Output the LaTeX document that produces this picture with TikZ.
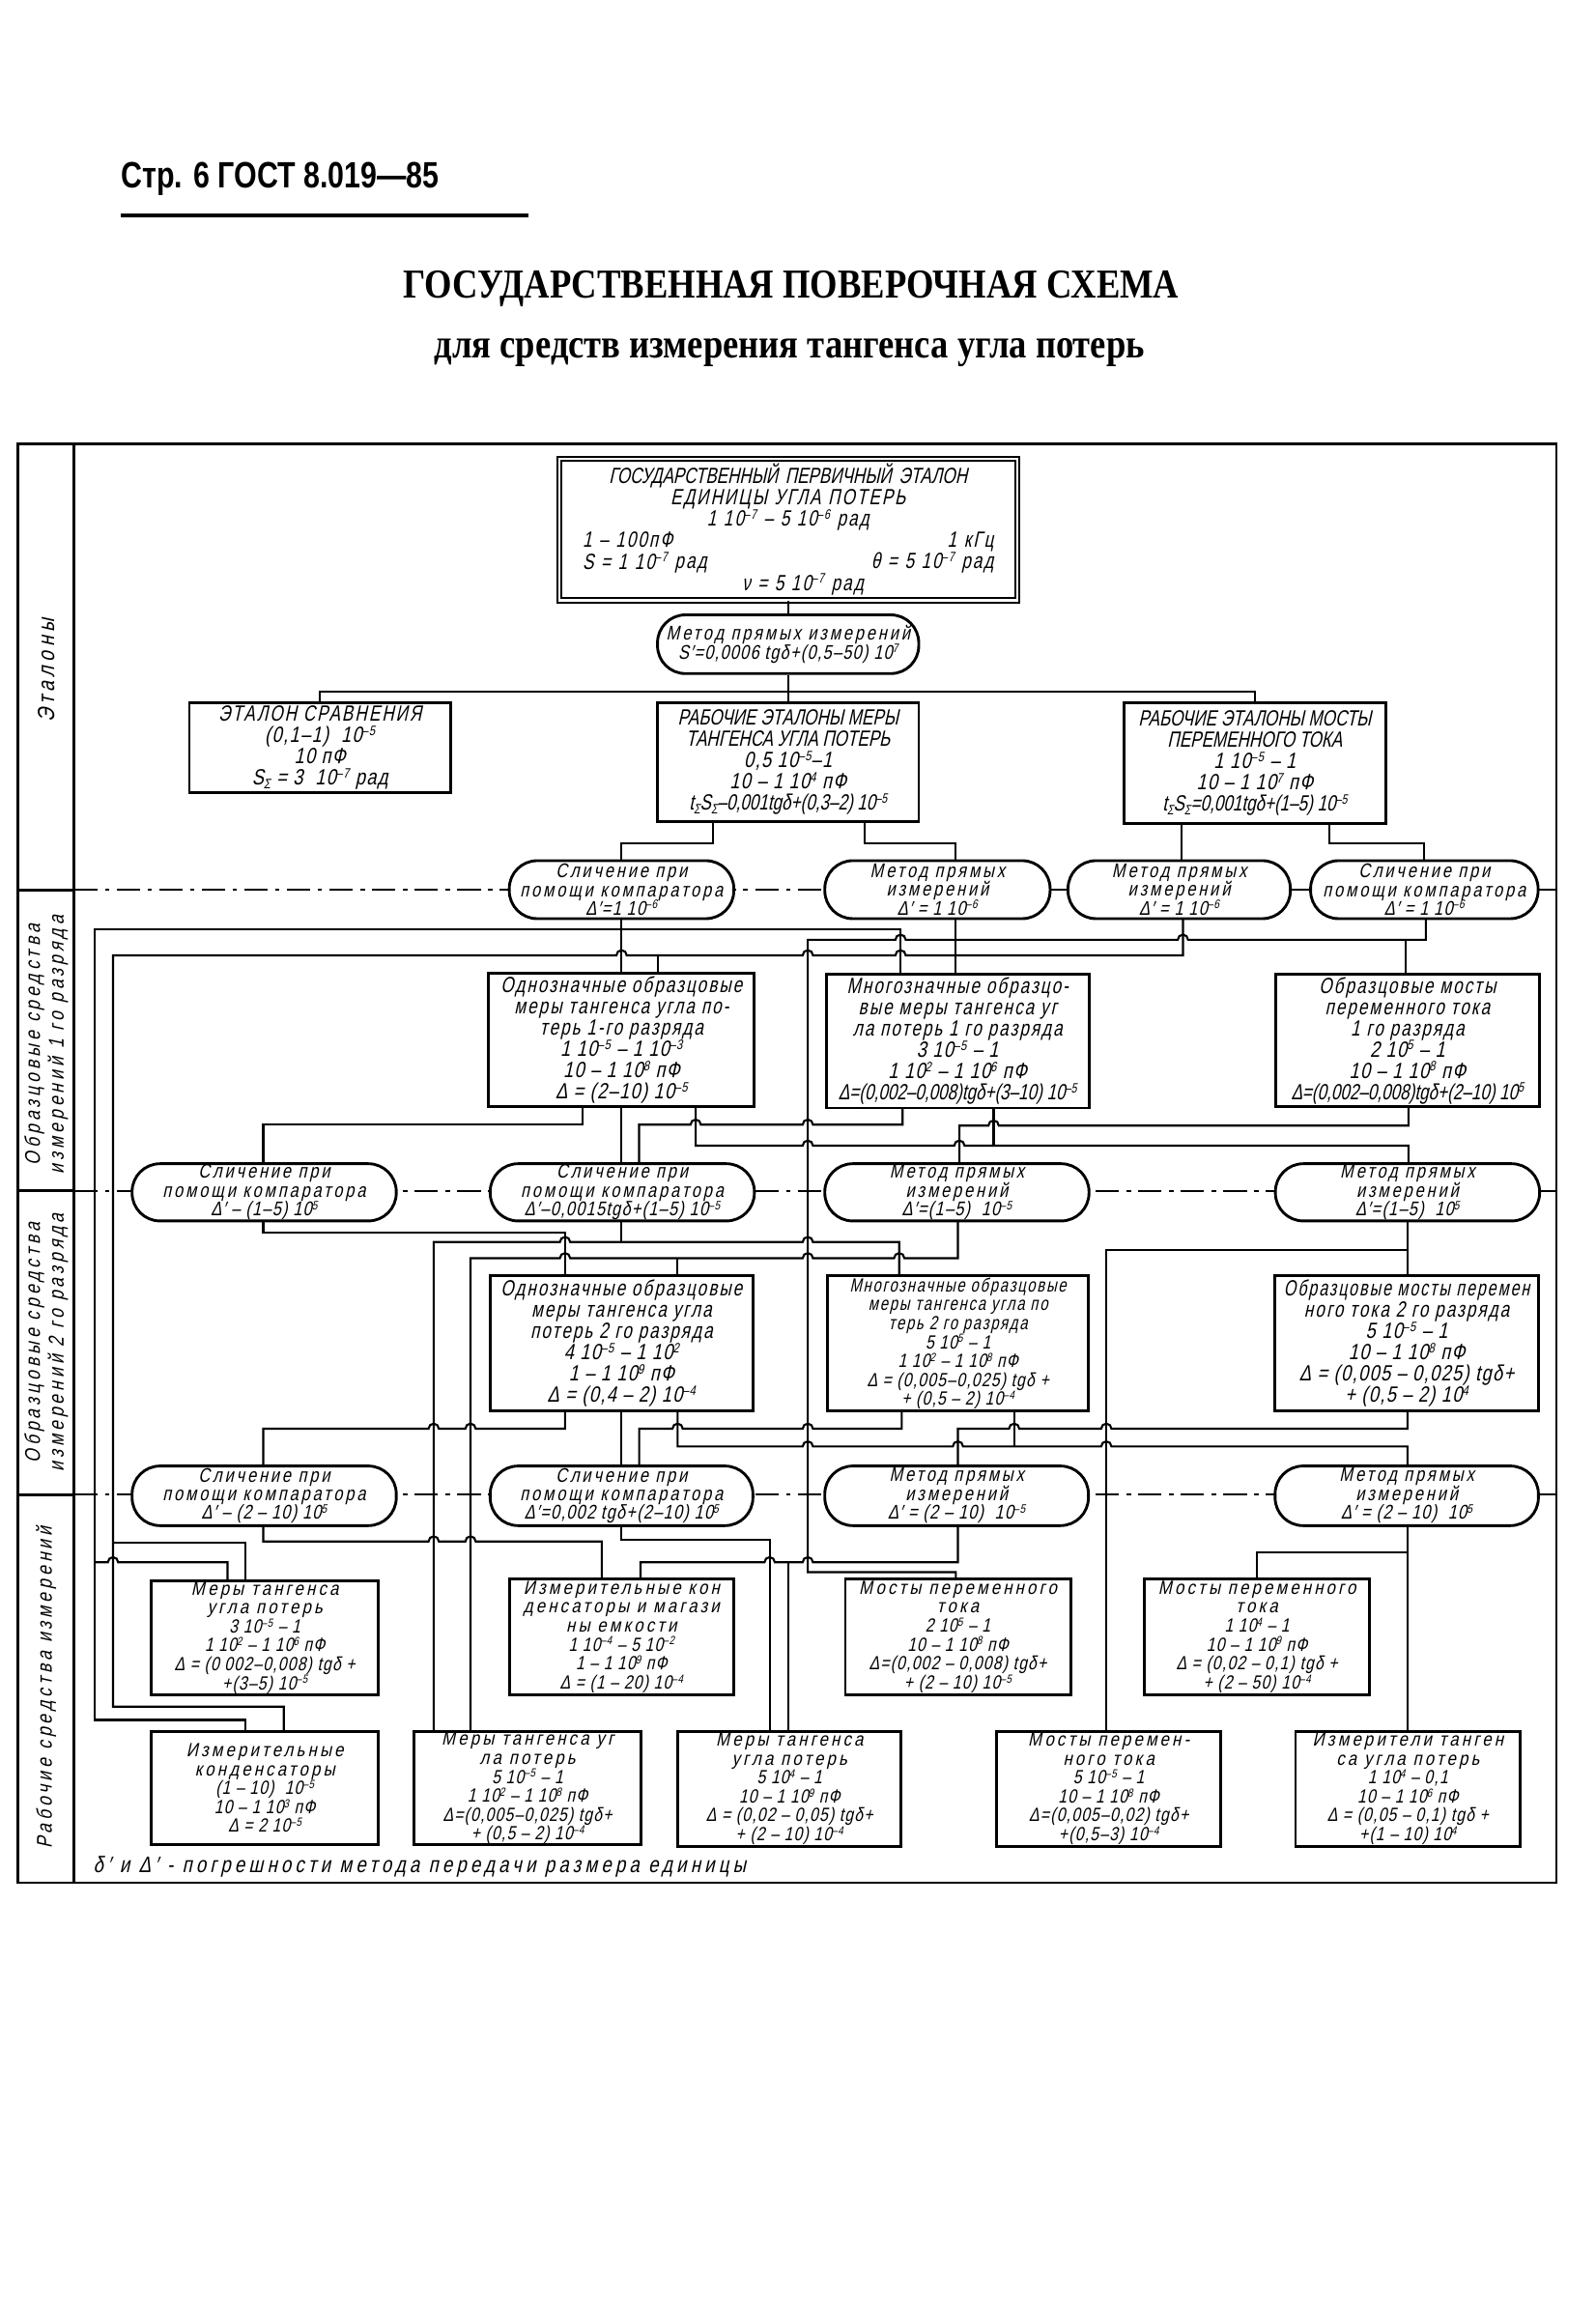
\documentclass[tikz,border=0pt]{standalone}
\usepackage{fontspec}
\usepackage{graphicx}
\setmainfont{Liberation Sans}
\newfontfamily\gost[FakeSlant=0.22,FakeStretch=0.75,LetterSpace=9]{Liberation Sans}
\newfontfamily\gostn[FakeSlant=0.22,FakeStretch=0.75]{Liberation Sans}
\newfontfamily\gosto[FakeSlant=0.22,FakeStretch=0.8,LetterSpace=14]{Liberation Sans}
\newfontfamily\gostb[FakeSlant=0.22,FakeStretch=0.85,LetterSpace=16]{Liberation Sans}
\newfontfamily\gostf[FakeSlant=0.22,FakeStretch=0.8,LetterSpace=6]{Liberation Sans}
\newfontfamily\gostw[FakeSlant=0.22,FakeStretch=0.8,LetterSpace=18]{Liberation Sans}
\newfontfamily\headfont[FakeStretch=0.8]{Liberation Sans}
\newfontfamily\titlefont[FakeStretch=0.86]{Liberation Serif}

\newcommand\sps[1]{\raisebox{0.32em}{\scalebox{0.62}{#1}}}
\newcommand\sbs[1]{\raisebox{-0.18em}{\scalebox{0.62}{#1}}}
\newcommand\frm[1]{{\gostn #1}}
\newcommand\ofm[1]{{\gostf #1}}
\newcommand\squeeze[1]{\scalebox{0.94}[1]{#1}}
% hop over a vertical line: going right / going left
\newcommand\hr[2]{-- (#1-3.5,#2) arc[start angle=180,end angle=0,radius=3.5pt]}
\newcommand\hl[2]{-- (#1+3.5,#2) arc[start angle=0,end angle=180,radius=3.5pt]}
% node given by its corners
\newcommand\place[7]{\node[#1,minimum width=#5pt-#3pt,minimum height=#6pt-#4pt] (#2) at ({(#3+#5)/2},{(#4+#6)/2}) {#7};}

\tikzset{
  conn/.style={line width=1.4pt},
  outline/.style={line width=1.7pt},
  blk/.style={draw,line width=1.9pt,fill=white,align=center,inner sep=0pt,
    font=\gost\fontsize{15}{14.5}\selectfont},
  blkseven/.style={blk,font=\gost\fontsize{13}{12.9}\selectfont},
  blksm/.style={blk,font=\gostb\fontsize{13}{12.9}\selectfont},
  prim/.style={blk,double,double distance=1.6pt,line width=1.3pt,text width=280pt,
    font=\gostn\fontsize{15}{14.5}\selectfont},
  meth/.style={draw,line width=1.9pt,fill=white,rounded corners=19pt,align=center,inner sep=0pt,
    font=\gosto\fontsize{13.5}{12.8}\selectfont},
  zone/.style={rotate=90,align=center,font=\gostw\fontsize{14.5}{16}\selectfont},
  sepline/.style={line width=1.4pt,dash pattern=on 16pt off 5pt on 3pt off 5pt},
}

\begin{document}
\lineskiplimit=-20pt\relax
\begin{tikzpicture}[x=1pt,y=-1pt]
\useasboundingbox (0,0) rectangle (1087,1568);
% heading
\node[anchor=west,font=\headfont\bfseries\fontsize{25}{27}\selectfont] (page) at (79,122) {Стр. 6 ГОСТ 8.019—85};
\draw[line width=2.8pt] (82,147) -- (360,147);
\node[font=\titlefont\bfseries\fontsize{28}{30}\selectfont] (title) at (539,197) {ГОСУДАРСТВЕННАЯ ПОВЕРОЧНАЯ СХЕМА};
\node[font=\titlefont\bfseries\fontsize{28}{30}\selectfont] (subtitle) at (538,240) {для средств измерения тангенса угла потерь};

% frame, level column, separators
\draw[outline] (12.2,302.6) rectangle (1060.4,1283);
\draw[outline] (50.5,302.6) -- (50.5,1283);
\foreach \y in {606.4,811.4,1018.6}{
  \draw[outline] (12.2,\y) -- (50.5,\y);
  \draw[sepline] (50.5,\y) -- (1060.4,\y);
  \draw[conn] (1045,\y) -- (1060.4,\y);}
\draw[conn] (712,606.4) -- (731,606.4) (876,606.4) -- (896,606.4);
\node[zone,font=\gostw\fontsize{16}{16}\selectfont] (lev0) at (31.5,457) {Эталоны};
\node[zone] (lev1) at (31.5,712) {Образцовые средства\\измерений 1 го разряда};
\node[zone] (lev2) at (31.5,915) {Образцовые средства\\измерений 2 го разряда};
\node[zone] (lev3) at (31.5,1150) {Рабочие средства измерений};

% connectors: etalons
\draw[conn] (218,479) -- (218,471.5) -- (855,471.5) -- (855,479);
\draw[conn] (486,560) -- (486,574.6) -- (423.5,574.6) -- (423.5,586.5);
\draw[conn] (589,560) -- (589,574.6) -- (651,574.6) -- (651,586.5);
\draw[conn] (805,561) -- (805,586.5);
\draw[conn] (906,561) -- (906,574.6) -- (970.5,574.6) -- (970.5,586.5);

% connectors: 1st grade
\draw[conn] (167,1180) -- (167,1172) -- (64.5,1172) -- (64.5,633.5) -- (613.6,633.5) -- (613.6,664);
\draw[conn] (64.5,1064.6) \hr{77}{1064.6} -- (155,1064.6) -- (155,1077);
\draw[conn] (423.5,626) -- (423.5,663);
\draw[conn] (193.4,1180) -- (193.4,1163) -- (77,1163) -- (77,651) \hr{423.5}{651} \hr{550.4}{651} \hr{613.6}{651} -- (806,651) -- (806,626);
\draw[conn] (448,651) -- (448,663);
\draw[conn] (77,1051.5) -- (167,1051.5) -- (167,1077);
\draw[conn] (651.3,1076) -- (651.3,1071.3) -- (550.4,1071.3) -- (550.4,640.4) \hr{613.6}{640.4} \hr{806}{640.4} -- (971.5,640.4) -- (971.5,626);
\draw[conn] (958,640.4) -- (958,664);
\draw[conn] (651,626) -- (651,664);

\draw[conn] (397,754) -- (397,766.5) -- (179.4,766.5) -- (179.4,793);
\draw[conn] (423.5,754) -- (423.5,793);
\draw[conn] (474,754) -- (474,780.7) \hr{550.4}{780.7} \hr{653.7}{780.7} -- (959.7,780.7) -- (959.7,793);
\draw[conn] (615,755) -- (615,766.4) \hl{550.4}{766.4} \hl{474}{766.4} -- (435.4,766.4) -- (435.4,793);
\draw[conn] (677,755) -- (677,780.7);
\draw[conn] (959.7,754) -- (959.7,767) \hl{677}{767} -- (653.7,767) -- (653.7,793);

% connectors: 2nd grade
\draw[conn] (179.4,832) -- (179.4,839.9) -- (385,839.9) -- (385,869.5);
\draw[conn] (423.5,832) -- (423.5,846.4);
\draw[conn] (295.5,1180) -- (295.5,846.4) \hr{385}{846.4} \hr{550.4}{846.4} -- (612.7,846.4) -- (612.7,869.5);
\draw[conn] (320.6,1180) -- (320.6,857.4) \hr{385}{857.4} \hr{550.4}{857.4} \hr{612.7}{857.4} -- (652.7,857.4) -- (652.7,832);
\draw[conn] (461.7,857.4) -- (461.7,869.5);
\draw[conn] (959,832) -- (959,869.5);
\draw[conn] (959,851.9) -- (753.8,851.9) -- (753.8,1180);

\draw[conn] (385,961.6) -- (385,973.6) \hl{320.6}{973.6} \hl{295.5}{973.6} -- (179.4,973.6) -- (179.4,999);
\draw[conn] (423.5,961.6) -- (423.5,999);
\draw[conn] (461.7,961.6) -- (461.7,985.7) \hr{550.4}{985.7} \hr{652.7}{985.7} \hr{753.8}{985.7} -- (959,985.7) -- (959,999);
\draw[conn] (614.4,961.6) -- (614.4,973.6) \hl{550.4}{973.6} \hl{461.7}{973.6} -- (435.5,973.6) -- (435.5,999);
\draw[conn] (691,961.6) -- (691,985.7);
\draw[conn] (959,961.6) -- (959,973.6) \hl{753.8}{973.6} \hl{691}{973.6} -- (652.7,973.6) -- (652.7,999);

% connectors: working instruments
\draw[conn] (179.4,1039.6) -- (179.4,1050.4) \hr{295.5}{1050.4} \hr{320.6}{1050.4} -- (410,1050.4) -- (410,1076);
\draw[conn] (423.5,1039.6) -- (423.5,1049.3) -- (524.4,1049.3) -- (524.4,1180);
\draw[conn] (652.7,1039.6) -- (652.7,1064.6) \hl{550.4}{1064.6} -- (537.3,1064.6) \hl{524.4}{1064.6} -- (436.4,1064.6) -- (436.4,1076);
\draw[conn] (537.3,1064.6) -- (537.3,1180);
\draw[conn] (959,1039.6) -- (959,1180);
\draw[conn] (959,1058) -- (856.6,1058) -- (856.6,1076);

% etalons
\place{prim}{T}{381}{312.5}{693}{409}{ГОСУДАРСТВЕННЫЙ ПЕРВИЧНЫЙ ЭТАЛОН\\\gost ЕДИНИЦЫ УГЛА ПОТЕРЬ\\1 10\sps{–7} – 5 10\sps{–6} рад\\1 – 100пФ\hfill 1 кГц\hspace*{26pt}\\S = 1 10\sps{–7} рад\hfill θ = 5 10\sps{–7} рад\\\hspace*{20pt}ν = 5 10\sps{–7} рад}
\place{meth}{M0}{448}{419}{626}{459}{Метод прямых измерений\\\ofm{S′=0,0006 tgδ+(0,5–50) 10\sps{7}}}
\place{blk}{e1}{129}{479}{307}{540}{ЭТАЛОН СРАВНЕНИЯ\\\ofm{(0,1–1) \ 10\sps{–5}}\\\ofm{10 пФ}\\\ofm{S\sbs{Σ} = 3 \ 10\sps{–7} рад}}
\place{blk}{rm}{448}{479}{626}{560}{\frm{РАБОЧИЕ ЭТАЛОНЫ МЕРЫ}\\\frm{ТАНГЕНСА УГЛА ПОТЕРЬ}\\\ofm{0,5 10\sps{–5}–1}\\\ofm{10 – 1 10\sps{4} пФ}\\\frm{t\sbs{Σ}S\sbs{Σ}–0,001tgδ+(0,3–2) 10\sps{–5}}}
\place{blk}{rb}{766}{479}{944}{561}{\frm{РАБОЧИЕ ЭТАЛОНЫ МОСТЫ}\\\frm{ПЕРЕМЕННОГО ТОКА}\\\ofm{1 10\sps{–5} – 1}\\\ofm{10 – 1 10\sps{7} пФ}\\\frm{t\sbs{Σ}S\sbs{Σ}=0,001tgδ+(1–5) 10\sps{–5}}}
\draw[conn] (T) -- (M0);
\draw[conn] (M0) -- (rm);

% comparison / measurement, 1st grade
\place{meth}{o1a}{347}{586.5}{500}{626}{Сличение при\\помощи компаратора\\\ofm{Δ′=1 10\sps{–6}}}
\place{meth}{o1b}{562}{586.5}{715.5}{626}{Метод прямых\\измерений\\\ofm{Δ′ = 1 10\sps{–6}}}
\place{meth}{o1c}{727.7}{586.5}{879.2}{626}{Метод прямых\\измерений\\\ofm{Δ′ = 1 10\sps{–6}}}
\place{meth}{o1d}{893}{586.5}{1048}{626}{Сличение при\\помощи компаратора\\\ofm{Δ′ = 1 10\sps{–6}}}

\place{blk}{b1a}{333}{663}{514}{754}{Однозначные образцовые\\меры тангенса угла по-\\терь 1-го разряда\\\ofm{1 10\sps{–5} – 1 10\sps{–3}}\\\ofm{10 – 1 10\sps{8} пФ}\\\ofm{Δ = (2–10) 10\sps{–5}}}
\place{blk}{b1b}{563}{664}{742}{755}{Многозначные образцо-\\вые меры тангенса уг\\ла потерь 1 го разряда\\\ofm{3 10\sps{–5} – 1}\\\ofm{1 10\sps{2} – 1 10\sps{6} пФ}\\\frm{Δ=(0,002–0,008)tgδ+(3–10) 10\sps{–5}}}
\place{blk}{b1c}{869}{664}{1049}{754}{Образцовые мосты\\переменного тока\\1 го разряда\\\ofm{2 10\sps{5} – 1}\\\ofm{10 – 1 10\sps{8} пФ}\\\frm{Δ=(0,002–0,008)tgδ+(2–10) 10\sps{5}}}

% 2nd grade
\place{meth}{o2a}{90}{793}{270}{832}{Сличение при\\помощи компаратора\\\ofm{Δ′ – (1–5) 10\sps{5}}}
\place{meth}{o2b}{334}{793}{514}{832}{Сличение при\\помощи компаратора\\\ofm{Δ′–0,0015tgδ+(1–5) 10\sps{–5}}}
\place{meth}{o2c}{562}{793}{742}{832}{Метод прямых\\измерений\\\ofm{Δ′=(1–5) \ 10\sps{–5}}}
\place{meth}{o2d}{869}{793}{1049}{832}{Метод прямых\\измерений\\\ofm{Δ′=(1–5) \ 10\sps{5}}}

\place{blk}{b2a}{334}{869.5}{513}{961.6}{Однозначные образцовые\\меры тангенса угла\\потерь 2 го разряда\\\ofm{4 10\sps{–5} – 1 10\sps{2}}\\\ofm{1 – 1 10\sps{9} пФ}\\\ofm{Δ = (0,4 – 2) 10\sps{–4}}}
\place{blkseven}{b2b}{564}{869.5}{741.6}{961.6}{Многозначные образцовые\\меры тангенса угла по\\терь 2 го разряда\\\ofm{5 10\sps{5} – 1}\\\ofm{1 10\sps{2} – 1 10\sps{8} пФ}\\\ofm{Δ = (0,005–0,025) tgδ +}\\\ofm{+ (0,5 – 2) 10\sps{–4}}}
\place{blk}{b2c}{868.8}{869.5}{1048.2}{961.6}{\squeeze{Образцовые мосты перемен}\\ного тока 2 го разряда\\\ofm{5 10\sps{–5} – 1}\\\ofm{10 – 1 10\sps{8} пФ}\\\ofm{Δ = (0,005 – 0,025) tgδ+}\\\ofm{+ (0,5 – 2) 10\sps{4}}}

\place{meth}{o3a}{90}{999}{270}{1039.6}{Сличение при\\помощи компаратора\\\ofm{Δ′ – (2 – 10) 10\sps{5}}}
\place{meth}{o3b}{334}{999}{513}{1039.6}{Сличение при\\помощи компаратора\\\ofm{Δ′=0,002 tgδ+(2–10) 10\sps{5}}}
\place{meth}{o3c}{562}{999}{741.6}{1039.6}{Метод прямых\\измерений\\\ofm{Δ′ = (2 – 10) \ 10\sps{–5}}}
\place{meth}{o3d}{868.8}{999}{1048.2}{1039.6}{Метод прямых\\измерений\\\ofm{Δ′ = (2 – 10) \ 10\sps{5}}}

% working instruments
\place{blksm}{w1a}{103}{1077}{258}{1155}{Меры тангенса\\угла потерь\\\ofm{3 10\sps{–5} – 1}\\\ofm{1 10\sps{2} – 1 10\sps{6} пФ}\\\ofm{Δ = (0 002–0,008) tgδ +}\\\ofm{+(3–5) 10\sps{–5}}}
\place{blksm}{w1b}{347}{1076}{500}{1155}{Измерительные кон\\денсаторы и магази\\ны емкости\\\ofm{1 10\sps{–4} – 5 10\sps{–2}}\\\ofm{1 – 1 10\sps{9} пФ}\\\ofm{Δ = (1 – 20) 10\sps{–4}}}
\place{blksm}{w1c}{576}{1076}{729.4}{1155}{Мосты переменного\\тока\\\ofm{2 10\sps{5} – 1}\\\ofm{10 – 1 10\sps{8} пФ}\\\ofm{Δ=(0,002 – 0,008) tgδ+}\\\ofm{+ (2 – 10) 10\sps{–5}}}
\place{blksm}{w1d}{780}{1076}{933}{1155}{Мосты переменного\\тока\\\ofm{1 10\sps{4} – 1}\\\ofm{10 – 1 10\sps{9} пФ}\\\ofm{Δ = (0,02 – 0,1) tgδ +}\\\ofm{+ (2 – 50) 10\sps{–4}}}
\place{blksm}{w2a}{103}{1180}{258}{1257}{Измерительные\\конденсаторы\\\ofm{(1 – 10) \ 10\sps{–5}}\\\ofm{10 – 1 10\sps{3} пФ}\\\ofm{Δ = 2 10\sps{–5}}}
\place{blksm}{w2b}{282}{1180}{437}{1257}{Меры тангенса уг\\ла потерь\\\ofm{5 10\sps{–5} – 1}\\\ofm{1 10\sps{2} – 1 10\sps{8} пФ}\\\ofm{Δ=(0,005–0,025) tgδ+}\\\ofm{+ (0,5 – 2) 10\sps{–4}}}
\place{blksm}{w2c}{462}{1180}{614}{1258}{Меры тангенса\\угла потерь\\\ofm{5 10\sps{4} – 1}\\\ofm{10 – 1 10\sps{9} пФ}\\\ofm{Δ = (0,02 – 0,05) tgδ+}\\\ofm{+ (2 – 10) 10\sps{–4}}}
\place{blksm}{w2d}{679}{1180}{832}{1258}{Мосты перемен-\\ного тока\\\ofm{5 10\sps{–5} – 1}\\\ofm{10 – 1 10\sps{8} пФ}\\\ofm{Δ=(0,005–0,02) tgδ+}\\\ofm{+(0,5–3) 10\sps{–4}}}
\place{blksm}{w2e}{882.7}{1180}{1036}{1258}{Измерители танген\\са угла потерь\\\ofm{1 10\sps{4} – 0,1}\\\ofm{10 – 1 10\sps{6} пФ}\\\ofm{Δ = (0,05 – 0,1) tgδ +}\\\ofm{+(1 – 10) 10\sps{4}}}

\node[anchor=west,font=\gostw\fontsize{15.3}{16}\selectfont] (note) at (60,1272) {δ′ и Δ′ - погрешности метода передачи размера единицы};
\end{tikzpicture}
\end{document}
